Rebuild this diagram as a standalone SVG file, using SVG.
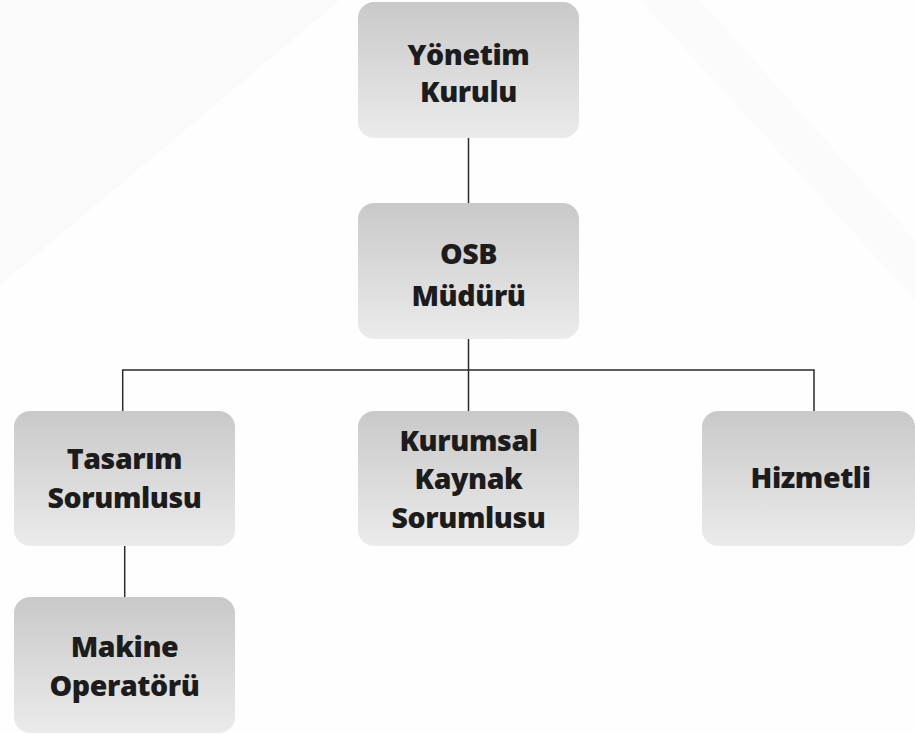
<svg xmlns="http://www.w3.org/2000/svg" width="915" height="734" viewBox="0 0 915 734">
<defs>
<linearGradient id="g" x1="0" y1="0" x2="0" y2="1">
<stop offset="0" stop-color="#c9c9c9"/>
<stop offset="1" stop-color="#ebebeb"/>
</linearGradient>
<style>
.box{fill:url(#g);}
.t{font-family:"Open Sans","Liberation Sans",sans-serif;font-weight:800;font-size:28.5px;letter-spacing:-0.4px;fill:#1c1c1c;text-anchor:middle;}
.c{stroke:#2a2a2a;stroke-width:1.5;fill:none;}
</style>
</defs>
<rect x="0" y="0" width="915" height="734" fill="#fefefe"/>
<polygon points="0,0 340,0 0,285" fill="#fafafa"/>
<polygon points="640,0 700,0 915,240 915,300" fill="#fbfbfb"/>
<g id="connectors">
<line class="c" x1="468.5" y1="138" x2="468.5" y2="203"/>
<line class="c" x1="468.5" y1="339" x2="468.5" y2="411"/>
<polyline class="c" points="122.7,411 122.7,370 814,370 814,411"/>
<line class="c" x1="124.7" y1="546" x2="124.7" y2="597"/>
</g>
<g id="yonetim">
<rect class="box" x="358" y="2" width="221" height="136" rx="16"/>
<text class="t" x="468.5" y="65">Yönetim</text>
<text class="t" x="468.5" y="101.7">Kurulu</text>
</g>
<g id="osb">
<rect class="box" x="358" y="203" width="221" height="136" rx="16"/>
<text class="t" x="468.5" y="264">OSB</text>
<text class="t" x="468.5" y="305.7">Müdürü</text>
</g>
<g id="tasarim">
<rect class="box" x="14" y="411" width="221" height="135" rx="16"/>
<text class="t" x="124.5" y="469.3">Tasarım</text>
<text class="t" x="124.5" y="508.3">Sorumlusu</text>
</g>
<g id="kurumsal">
<rect class="box" x="358" y="411" width="221" height="135" rx="16"/>
<text class="t" x="468.5" y="450.7">Kurumsal</text>
<text class="t" x="468.5" y="489">Kaynak</text>
<text class="t" x="468.5" y="527.7">Sorumlusu</text>
</g>
<g id="hizmetli">
<rect class="box" x="702" y="411" width="213" height="135" rx="16"/>
<text class="t" x="810.5" y="488.3">Hizmetli</text>
</g>
<g id="makine">
<rect class="box" x="14" y="597" width="221" height="136" rx="16"/>
<text class="t" x="124.5" y="657.3">Makine</text>
<text class="t" x="124.5" y="696">Operatörü</text>
</g>
</svg>
